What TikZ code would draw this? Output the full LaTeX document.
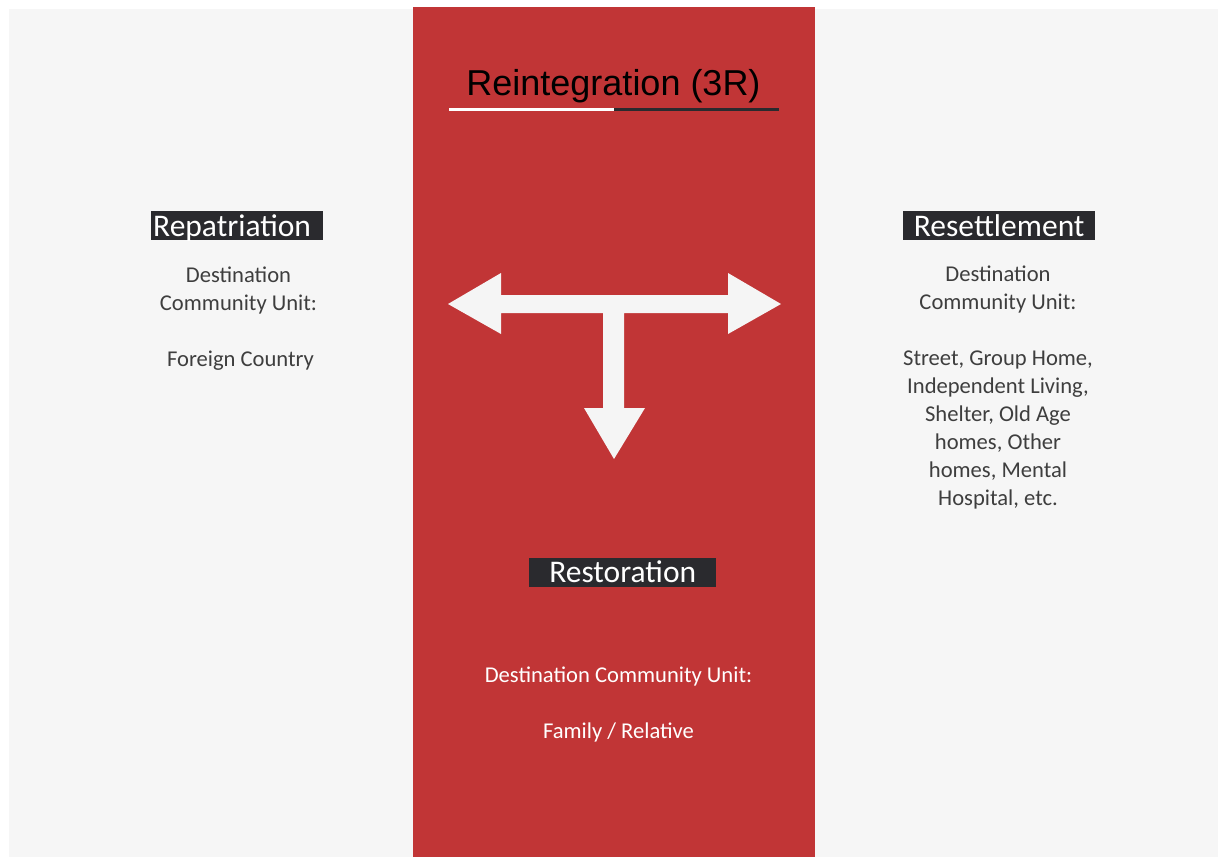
\documentclass[tikz,border=0pt]{standalone}
\usepackage{fontspec}
\newfontfamily\calib{Carlito}
\newfontfamily\arialf{Liberation Sans}
\definecolor{colred}{RGB}{193,53,54}
\definecolor{colbg}{RGB}{246,246,246}
\definecolor{coldark}{RGB}{42,42,46}
\definecolor{coltext}{RGB}{62,62,62}
\definecolor{colarrow}{RGB}{245,245,245}
\tikzset{
  headbox/.style={fill=coldark, text=white, inner xsep=0pt, inner ysep=0pt,
    minimum height=29pt, text height=24pt, text depth=3pt,
    font=\calib\fontsize{31.5}{31.5}\selectfont},
  bodytext/.style={align=center, inner sep=0pt, text=coltext,
    font=\calib\fontsize{22.6}{28}\selectfont},
}
\begin{document}
\begin{tikzpicture}[x=1pt,y=-1pt]
\useasboundingbox (0,0) rectangle (1218,857);
\fill[white] (0,0) rectangle (1218,857);
\fill[colbg] (9,9) rectangle (1218,857);
\fill[colred] (413,7) rectangle (815,857);
% title
\node[anchor=base, inner sep=0pt, font=\arialf\fontsize{36}{36}\selectfont, text=black] (title) at (613.5,95) {Reintegration (3R)};
\draw[line width=3pt, white] (449,109) -- (614,109);
\draw[line width=3pt, coldark] (614,109) -- (779,109);
% arrows
\fill[colarrow] (448,304) -- (501,273) -- (501,295) -- (728,295) -- (728,273) -- (781,304)
  -- (728,334) -- (728,313) -- (624,313) -- (624,408) -- (645,408) -- (614,459)
  -- (584,408) -- (603,408) -- (603,313) -- (501,313) -- (501,334) -- cycle;
% left column
\node[headbox, anchor=west, text width=170pt, inner xsep=1pt, align=left] (rep) at (151,225.5) {\hspace{1pt}Repatriation};
\node[bodytext, anchor=base] (reptext) at (238.5,366) {Destination\\Community Unit:\\[28pt]\hspace{4pt}Foreign Country};
% right column
\node[headbox, anchor=west, text width=192pt, align=center] (res) at (903,225.5) {Resettlement};
\node[bodytext, anchor=base] (restext) at (998,505) {Destination\\Community Unit:\\[28pt]Street, Group Home,\\Independent Living,\\Shelter, Old Age\\homes, Other\\homes, Mental\\Hospital, etc.};
% centre
\node[headbox, anchor=west, text width=187pt, align=center] (rest) at (529,572) {Restoration};
\node[bodytext, anchor=base, text=white] (resttext) at (618.5,738) {Destination Community Unit:\\[28pt]Family / Relative};
\end{tikzpicture}
\end{document}
